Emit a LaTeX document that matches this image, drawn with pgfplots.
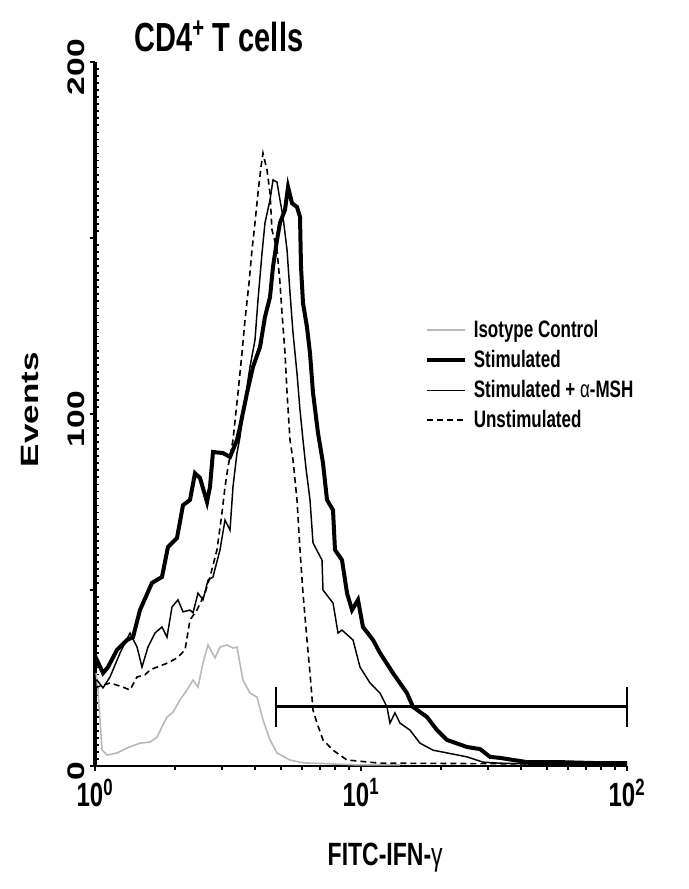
\documentclass[border=0pt]{standalone}
\usepackage{fontspec}
\setmainfont{Liberation Sans}
\usepackage{pgfplots}
\pgfplotsset{compat=1.18}
\newcommand\vs[1]{\scalebox{1}[1.4]{#1}}
\newcommand\hs[1]{\scalebox{1.4}[1]{#1}}
\definecolor{isogray}{RGB}{185,185,185}

\begin{document}
\begin{tikzpicture}
\path[use as bounding box] (-71.25pt,-92.25pt) rectangle (445.5pt,574.5pt);
\begin{axis}[
  at={(0,0)}, anchor=south west,
  scale only axis, width=399pt, height=528pt,
  clip=false,
  xmode=log, xmin=1, xmax=100, ymin=0, ymax=200,
  axis x line*=bottom, axis y line*=left,
  axis line style={-},
  x axis line style={-, line width=1.3pt},
  y axis line style={-, line width=3pt},
  xtick={1,10,100},
  xticklabels={\vs{10\textsuperscript{0}},\vs{10\textsuperscript{1}},\vs{10\textsuperscript{2}}},
  ytick={0,50,100,150,200},
  yticklabels={\hs{0},,\hs{100},,\hs{200}},
  minor y tick num=24,
  tick align=outside,
  major tick length=4pt, minor tick length=3pt,
  tick style={black, line width=1.2pt},
  minor y tick style={xshift=3pt, line width=1.3pt},
  ticklabel style={font=\fontsize{18}{18}\selectfont\bfseries},
  yticklabel style={rotate=90, anchor=south, xshift=-4pt},
  xticklabel style={yshift=-2pt},
  xlabel={\vs{FITC-IFN-{\mdseries γ}}},
  xlabel style={at={(axis description cs:0.4286,-0.142)}, anchor=base west, font=\fontsize{17.25}{18}\selectfont\bfseries},
  ylabel={\hs{Events}},
  ylabel style={at={(axis description cs:-0.122,0.506)}, anchor=center, font=\fontsize{18.75}{19}\selectfont\bfseries},
  legend style={at={(axis description cs:0.62,0.6335)}, anchor=north west, draw=none, fill=none,
    font=\fontsize{12.75}{13}\selectfont\bfseries, inner sep=0pt, row sep=7.5pt, column sep=5pt,
    nodes={inner sep=0pt, text height=13pt, text depth=2pt}},
  legend cell align=left,
  legend image code/.code={\draw[#1] (0pt,0pt) -- (28.5pt,0pt);},
]
% Isotype Control
\addplot[isogray, line width=1.2pt] coordinates {
(1.01,26.4) (1.026,21.6) (1.063,4.5) (1.110,3.1) (1.210,3.7) (1.319,5.1) (1.476,6.5)
(1.610,6.8) (1.711,8.2) (1.786,11.1) (1.865,13.9) (1.965,15.3) (2.087,18.8) (2.218,21.6)
(2.336,24.4) (2.439,22.4) (2.547,29.3) (2.660,34.4) (2.826,30.7) (2.951,33.8) (3.135,34.4)
(3.302,33.5) (3.418,33.8) (3.601,24.4) (3.826,20.7) (4.064,19.6) (4.281,13.1) (4.549,7.4)
(4.833,3.7) (5.409,1.7) (6.053,0.9) (9.913,0.3) (14.01,0.3)
};
\addlegendentry{\vs{Isotype Control}}
% Stimulated
\addplot[black, line width=3pt] coordinates {
(1.0,28) (1.017,30.1) (1.072,26.4) (1.119,28.1) (1.210,33.0) (1.319,35.8) (1.390,36.6)
(1.476,44.3) (1.637,52.0) (1.786,53.7) (1.881,62.2) (2.034,64.8) (2.142,74.1) (2.276,75.6)
(2.377,83.2) (2.482,81.8) (2.637,75.0) (2.706,79.3) (2.777,89.2) (3.028,88.9) (3.218,87.8)
(3.418,92.6) (3.509,96.3) (3.729,106.0) (3.927,113.4) (4.172,119.0) (4.356,127.6)
(4.549,133.2) (4.669,141.8) (4.833,149.4) (4.960,154.3) (5.180,158.0) (5.318,164.5)
(5.504,159.9) (5.746,158.8) (5.898,156.0) (5.95,141.8) (6.053,131.5) (6.266,124.7)
(6.431,117.3) (6.601,106.0) (6.893,94.6) (7.197,86.1) (7.452,75.6) (7.849,72.7)
(7.985,61.4) (8.484,58.5) (8.862,49.1) (9.252,44.3) (9.743,47.2) (10.17,39.5) (11.10,35.8)
(11.79,32.1) (13.19,26.4) (14.89,20.7) (15.69,16.8) (17.71,13.9) (19.31,10.2) (21.06,7.4)
(25.03,5.4) (28.03,4.8) (30.56,2.6) (33.33,2.3) (42.09,1.1) (56.03,1.1) (79.1,0.8) (100,0.8)
};
\addlegendentry{\vs{Stimulated}}
% Stimulated + alpha-MSH
\addplot[black, line width=1.1pt] coordinates {
(1.0,24) (1.017,24.4) (1.072,22.2) (1.139,25.3) (1.242,32.1) (1.354,37.8) (1.439,33.8)
(1.502,28.1) (1.582,33.8) (1.681,37.8) (1.786,39.5) (1.865,36.6) (1.948,45.2) (2.051,47.2)
(2.142,43.8) (2.276,44.3) (2.336,43.5) (2.439,49.1) (2.547,47.2) (2.660,52.8) (2.777,53.7)
(2.951,61.4) (3.082,69.9) (3.218,67.0) (3.302,79.3) (3.418,88.9) (3.509,93.5) (3.664,104.0)
(3.826,113.4) (3.995,121.0) (4.100,132.4) (4.245,145.7) (4.356,154.3) (4.549,160.8)
(4.669,166.5) (4.833,165.9) (4.960,160.8) (5.091,156.0) (5.272,146.6) (5.409,134.4)
(5.552,123.0) (5.746,111.6) (5.898,101.1) (6.053,92.6) (6.21,84.7) (6.431,75.6)
(6.601,63.4) (7.136,58.5) (7.197,50.0) (7.849,46.3) (8.196,37.8) (8.484,38.6) (9.331,35.8)
(9.913,28.1) (10.81,23.6) (11.79,20.7) (12.52,16.8) (12.85,12.2) (13.42,15.1) (14.01,12.2)
(15.28,10.2) (16.66,6.5) (18.65,4.5) (25.03,2.6) (28.75,1.1) (33.33,0.8) (56.03,0.3) (100,0.3)
};
\addlegendentry{\vs{Stimulated + {\mdseries α}-MSH}}
% Unstimulated
\addplot[black, line width=1.2pt, dash pattern=on 4.5pt off 3pt] coordinates {
(1.0,22) (1.017,22.4) (1.139,23.6) (1.274,22.4) (1.354,21.6) (1.439,25.3) (1.542,25.9)
(1.610,27.3) (1.711,28.1) (1.881,29.3) (2.034,30.7) (2.180,33.0) (2.276,41.5) (2.417,44.3)
(2.592,49.1) (2.706,53.7) (2.875,61.4) (3.002,71.9) (3.082,79.3) (3.162,84.9) (3.302,92.6)
(3.448,106.0) (3.570,117.3) (3.664,126.7) (3.793,137.2) (3.893,146.6) (3.995,154.3)
(4.100,162.8) (4.208,170.2) (4.281,174.1) (4.433,169.3) (4.549,162.8) (4.628,152.3)
(4.833,146.6) (4.960,137.2) (5.047,128.7) (5.180,117.3) (5.272,106.0) (5.409,92.6)
(5.552,86.9) (5.746,75.6) (5.898,61.4) (6.053,49.1) (6.266,35.8) (6.431,26.4) (6.601,15.9)
(6.833,12.2) (7.197,7.4) (7.849,4.5) (8.862,1.7) (11.79,0.8) (100,0.5)
};
\addlegendentry{\vs{Unstimulated}}
% gate marker
\addplot[black, line width=2.2pt, mark=|, mark size=15pt, mark options={line width=2pt}, forget plot]
  coordinates {(4.79,16.8) (100,16.8)};
\end{axis}
\node[anchor=base west, font=\fontsize{21.75}{22}\selectfont\bfseries] at (26pt,535.5pt)
  {\vs{CD4\textsuperscript{+} T cells}};
\end{tikzpicture}
\end{document}
